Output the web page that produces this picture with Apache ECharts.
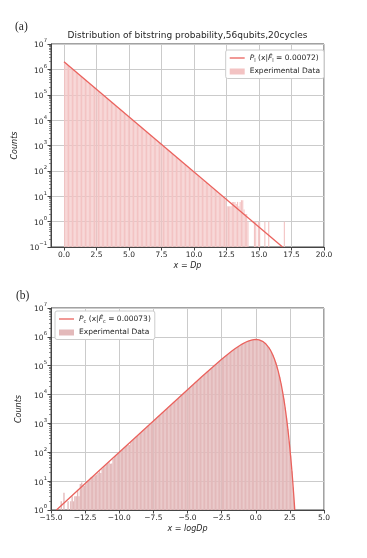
<!DOCTYPE html>
<html><head><meta charset="utf-8">
<script src="https://cdn.jsdelivr.net/npm/echarts@6/dist/echarts.min.js"></script>
<style>html,body{margin:0;padding:0;background:#fff}#c{width:367px;height:558px}</style>
</head><body><div id="c"></div>
<script>
// ---------------- data ----------------
const panelLabels = ['(a)', '(b)'];
const topTitle = 'Distribution of bitstring probability,56qubits,20cycles';
const topXName = 'x = Dp';
const bottomXName = 'x = logDp';
const yName = 'Counts';
const topXTicks = [0, 2.5, 5, 7.5, 10, 12.5, 15, 17.5, 20];
const bottomXTicks = [-15, -12.5, -10, -7.5, -5, -2.5, 0, 2.5, 5];

// histogram (a): bins of width 0.1 starting at 0.0
const topBinStart = 0.0, topBinWidth = 0.1;
const topCounts = [
 1898000,1725000,1553000,1412000,1271000,1156000,1041000,946000,852000,775000,
 698000,635000,571000,519000,468000,425000,383000,348000,313000,285000,
 257000,233500,210300,191000,172200,156400,141000,128100,115400,104900,
 94600,85800,77400,70300,63400,57500,51900,47100,42500,38600,
 34800,31600,28450,25850,23300,21180,19080,17330,15610,14200,
 12790,11620,10460,9520,8560,7790,7010,6380,5740,5230,
 4700,4280,3840,3510,3140,2870,2570,2350,2100,1925,
 1720,1580,1405,1290,1150,1060,940,868,770,712,
 630,582,515,478,420,392,344,320,281,262,
 230,215,188,176,152,144,125,118,101,96,
 84,79,66,60,54,50,43,41,35,33,
 30,27,24,22,20,18,16,15,13,12,
 11,10,9,8,7,4,4,4,4,6,
 6,6,5,6,4,6,7,7,3,2,
 2,1,0,0,0,0,1,1,0,1,
 1,0,0,0,1,0,0,1,0,0,
 0,0,0,0,0,0,0,0,0,1];
// fitted curve (a)
const topLineX = [0, 16.81];
const topLineY = [2000000, 0.1];

// histogram (b): bins of width 0.1 starting at -14.6
const bottomBinStart = -14.6, bottomBinWidth = 0.1;
const bottomCounts = [
 1,1,1,2,1,4,1,1,2,1,
 2,3,2,3,3,5,3,8,9,7,
 7,8,10,11,12,14,
 14,15,16,17,19,22,19,27,30,33,
 37,41,45,40,41,60,68,75,83,92,
 103,113,125,140,152,170,186,180,226,252,
 280,310,343,380,420,465,515,570,630,695,
 772,854,945,1043,1155,1278,1410,1560,1722,1905,
 2105,2330,2574,2848,3146,3480,3843,4250,4696,5190,
 5735,6335,7000,7735,8545,9440,10425,11520,12725,14060,
 15530,17150,18940,20910,23090,25490,28140,31050,34270,37800,
 41700,45990,50720,55910,61620,67900,74800,82360,90650,99730,
 109680,120530,132410,145360,159450,174780,191420,209450,228940,249900,
 272490,296660,322480,349970,379040,409660,441730,475020,509380,544500,
 580070,615490,650280,683890,715430,744090,769120,789110,803690,811380,
 811300,802700,785100,758100,721700,676300,622800,562700,497800,430100,
 362200,296400,235000,179900,132500,93540,62980,40260,24290,13750,
 7258,3543,1587,647,237,78,22,6,1];
// fitted curve (b)
const bottomLineX = [-14.6,-12,-10,-8,-6,-5,-4,-3.5,-3,-2.5,-2.25,-2,-1.75,-1.5,-1.25,-1,-0.75,-0.5,-0.25,-0.125,0,0.125,0.25,0.5,0.75,1,1.1,1.25,1.375,1.5,1.625,1.75,1.875,2,2.1,2.2,2.3,2.4,2.5,2.6,2.7,2.8,2.86];
const bottomLineY = [1.0,13.6,100,741,5459,14780,39700,64700,104600,167000,209500,261000,322400,394200,475000,562300,650500,730300,789300,806200,812200,805700,785000,699900,562700,396100,328900,235000,167300,111960,69870,40260,21200,10080,5130,2400,1026,397,137.7,42.3,11.3,2.62,1.0];

const legendTexts = {
  lineA: '{i|P}{sub|l} (x|{i|F̂}{sub|l} = 0.00072)',
  histA: 'Experimental Data',
  lineB: '{i|P}{sub|c} (x|{i|F̂}{sub|c} = 0.00073)',
  histB: 'Experimental Data'
};

// ---------------- styles ----------------
const FONT = 'DejaVu Sans';
const LINE_COLOR = '#ea625d';
const HIST_A = '#f3c3c3';
const HIST_B = '#e3b9ba';
const FRAME = '#454545';
const GRIDC = '#cbcbcb';
const TXT = '#262626';

function minus(s) { return String(s).replace('-', '\u2212'); }

function histSeries(name, idx, start, width, counts, yMin, color, shrink) {
  const data = [];
  counts.forEach((c, i) => { if (c > 0) data.push([start + i * width, start + (i + 1) * width, c]); });
  return {
    type: 'custom', name, xAxisIndex: idx, yAxisIndex: idx, clip: true, z: 2,
    itemStyle: { color },
    encode: { x: [0, 1], y: 2 },
    renderItem(params, api) {
      const c = api.value(2);
      if (!(c > yMin)) return null;
      const p0 = api.coord([api.value(0), c]);
      const p1 = api.coord([api.value(1), yMin]);
      const w = p1[0] - p0[0];
      return { type: 'rect',
        shape: { x: p0[0] + w * (1 - shrink) / 2, y: p0[1], width: w * shrink, height: p1[1] - p0[1] },
        style: { fill: color } };
    },
    data
  };
}
function lineSeries(name, idx, X, Y) {
  return { type: 'line', name, xAxisIndex: idx, yAxisIndex: idx, symbol: 'none', showSymbol: false, clip: true, z: 3,
    lineStyle: { color: LINE_COLOR, width: 1.3 }, itemStyle: { color: LINE_COLOR },
    data: X.map((x, i) => [x, Y[i]]) };
}
function xAxis(idx, min, max, ticks, name) {
  return { gridIndex: idx, type: 'value', min, max,
    axisLine: { onZero: false, lineStyle: { color: FRAME, width: 1 } },
    axisTick: { customValues: ticks, length: 3.5, lineStyle: { color: FRAME } },
    axisLabel: { customValues: ticks, formatter: v => minus(v.toFixed(1)), fontFamily: FONT, fontSize: 7.5, color: TXT, margin: 4 },
    splitLine: { show: true, lineStyle: { color: GRIDC, width: 1 } },
    name, nameLocation: 'middle', nameGap: 15,
    nameTextStyle: { fontFamily: FONT, fontStyle: 'italic', fontSize: 8, color: TXT } };
}
function yAxis(idx, min, max) {
  return { gridIndex: idx, type: 'log', logBase: 10, min, max,
    axisLine: { onZero: false, lineStyle: { color: FRAME, width: 1 } },
    axisTick: { length: 3.5, lineStyle: { color: FRAME } },
    minorTick: { show: true, splitNumber: 9, length: 2, lineStyle: { color: FRAME, width: 0.6 } },
    axisLabel: { fontFamily: FONT, fontSize: 7.5, color: TXT, margin: 4,
      formatter: v => '{b|10}{s|' + minus(Math.round(Math.log10(v))) + '}',
      rich: { b: { fontFamily: FONT, fontSize: 7.5, color: TXT, lineHeight: 11, verticalAlign: 'bottom' },
              s: { fontFamily: FONT, fontSize: 5.3, color: TXT, lineHeight: 11, verticalAlign: 'top' } } },
    splitLine: { show: true, lineStyle: { color: GRIDC, width: 1 } },
    name: yName, nameLocation: 'middle', nameGap: 21,
    nameTextStyle: { fontFamily: FONT, fontStyle: 'italic', fontSize: 8, color: TXT } };
}
const legendRich = {
  i: { fontFamily: FONT, fontStyle: 'italic', fontSize: 7.5, color: TXT },
  sub: { fontFamily: FONT, fontSize: 5.2, color: TXT, verticalAlign: 'bottom', lineHeight: 11 }
};
function legend(names, pos) {
  return Object.assign({
    orient: 'vertical', selectedMode: false,
    data: [{ name: names[0], icon: 'path://M0,0H30V2.6H0Z', itemStyle: { color: LINE_COLOR } },
           { name: names[1], icon: 'rect' }],
    itemWidth: 15, itemHeight: 6, itemGap: 4, padding: [4, 4, 3, 4],
    backgroundColor: '#fff', borderColor: '#cccccc', borderWidth: 1, borderRadius: 2,
    textStyle: { fontFamily: FONT, fontSize: 7.5, color: TXT, rich: legendRich },
    formatter: n => legendTexts[n]
  }, pos);
}

const chart = echarts.init(document.getElementById('c'), null, { renderer: 'canvas' });
chart.setOption({
  animation: false,
  backgroundColor: '#fff',
  title: [
    { text: panelLabels[0], left: 15, top: 21, padding: 0, textStyle: { fontFamily: 'Liberation Serif', fontSize: 11.5, fontWeight: 'normal', color: TXT } },
    { text: topTitle, left: 187.5, textAlign: 'center', top: 31, padding: 0, textStyle: { fontFamily: FONT, fontSize: 9, fontWeight: 'normal', color: TXT } },
    { text: panelLabels[1], left: 16, top: 290, padding: 0, textStyle: { fontFamily: 'Liberation Serif', fontSize: 11.5, fontWeight: 'normal', color: TXT } }
  ],
  grid: [
    { left: 51, top: 44, width: 273, height: 203, show: true, borderColor: FRAME, borderWidth: 1, backgroundColor: 'transparent' },
    { left: 51, top: 308, width: 273, height: 202, show: true, borderColor: FRAME, borderWidth: 1, backgroundColor: 'transparent' }
  ],
  xAxis: [ xAxis(0, -1, 20, topXTicks, topXName), xAxis(1, -15, 5, bottomXTicks, bottomXName) ],
  yAxis: [ yAxis(0, 0.1, 1e7), yAxis(1, 1, 1e7) ],
  legend: [
    legend(['lineA', 'histA'], { right: 43, top: 50 }),
    legend(['lineB', 'histB'], { left: 55, top: 311 })
  ],
  series: [
    histSeries('histA', 0, topBinStart, topBinWidth, topCounts, 0.1, HIST_A, 0.85),
    lineSeries('lineA', 0, topLineX, topLineY),
    histSeries('histB', 1, bottomBinStart, bottomBinWidth, bottomCounts, 1, HIST_B, 1.0),
    lineSeries('lineB', 1, bottomLineX, bottomLineY)
  ]
});
</script></body></html>
